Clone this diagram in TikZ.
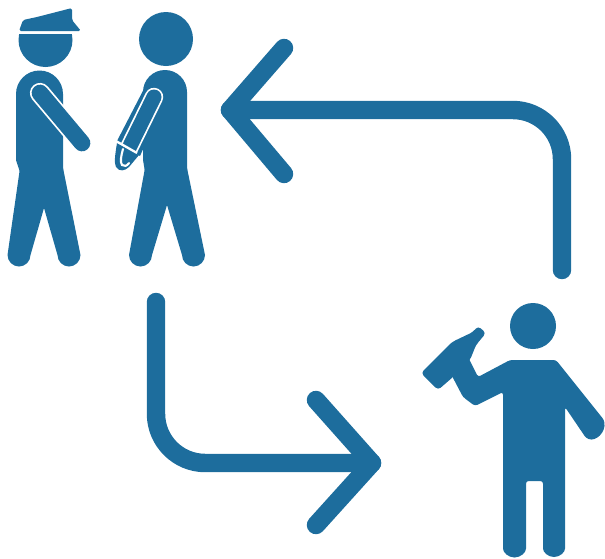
\documentclass[tikz,border=0pt]{standalone}
\definecolor{figblue}{RGB}{29,109,157}
\usetikzlibrary{calc}
\begin{document}
\begin{tikzpicture}[x=0.02cm,y=-0.02cm,
  arrowline/.style={draw=figblue,line width=10.5pt,line cap=round,line join=round},
  limb/.style={line cap=round,line join=round},
  gap/.style={draw=white,line cap=round}]
  \useasboundingbox (0,0) rectangle (605,558);
  % Officer
  \coordinate (officerhead) at (45.5,40);
  \begin{scope}
    \clip (0,34) rectangle (100,80);
    \fill[figblue] (officerhead) circle (27);
  \end{scope}
  \fill[figblue,rounded corners=1pt] (19,31) -- (23,20) -- (37,17) -- (72,8) -- (72,20) -- (81,31) -- cycle;
  \fill[figblue] (16,160) -- (16,94) arc[start angle=180,end angle=360,radius=23.5] -- (63,172) -- (20,172) -- cycle;
  \fill[figblue] (20,168) -- (7.5,255) arc[start angle=180,end angle=0,radius=11.5] -- (44,208)
    -- (57.5,255) arc[start angle=180,end angle=0,radius=11.5] -- (63,168) -- cycle;
  \draw[gap,line width=11.5pt] (40,93) -- (82,143);
  \draw[figblue,limb,line width=9.5pt] (40,93) -- (82,143);
  % Arrested man
  \fill[figblue] (166,39) circle (27);
  \fill[figblue] (143,160) -- (143,92) arc[start angle=180,end angle=360,radius=22] -- (187,172) -- (145,172) -- cycle;
  \fill[figblue] (145,168) -- (129,255) arc[start angle=180,end angle=0,radius=11.5] -- (167,205)
    -- (182,255) arc[start angle=180,end angle=0,radius=11.5] -- (187,168) -- cycle;
  % Arm behind the back
  \fill[figblue] (147,83) -- (117,141) -- (140,156) -- (165,100) -- cycle;
  \draw[gap,line width=10.5pt] (154,97) -- (129,148);
  \draw[figblue,limb,line cap=butt,line width=8.5pt] (154,97) -- (129,148);
  \fill[figblue] (154,97) circle (7.5);
  % Cuffed hand
  \fill[figblue] (117,143) .. controls (115,155) and (114,163) .. (116,167)
    .. controls (119,172) and (125,171) .. (129,167) -- (139,155) -- cycle;
  \draw[white,line width=1.3pt] (116,141) -- (137,153);
  \draw[white,line width=1.2pt,line cap=round] (123,149) .. controls (121,156) and (120,162) .. (122,165)
    .. controls (124,167) and (127,166) .. (129,163);
  % Drinking man
  \fill[figblue] (533,326) circle (23);
  \fill[figblue,rounded corners=1.5pt] (510,360) -- (556,360) -- (604,420) .. controls (606,432) and (596,442) .. (586,438)
    -- (565,407) -- (565,546) arc[start angle=0,end angle=180,radius=11] -- (543,481) -- (526,481)
    -- (526,546) arc[start angle=0,end angle=180,radius=11.5] -- (503,392) -- (475,406)
    -- (463,397) -- (452,376) -- (468,357) -- (478,377) -- cycle;
  % Bottle
  \fill[figblue,rounded corners=2pt] (421,373) -- (438,390) -- (453,377) -- (470,360) -- (476,345)
    -- (486,333) -- (478,326) -- (473,332) -- (452,342) -- cycle;
  % Arrow back to the officer
  \coordinate (topstart) at (562,270);
  \coordinate (topbend) at (562,110);
  \coordinate (toptip) at (230,110);
  \draw[arrowline,rounded corners=28pt] (topstart) -- (topbend) -- (toptip);
  \draw[arrowline] (284,48) -- (toptip) -- (284,174);
  % Arrow to the drinking man
  \coordinate (botstart) at (156,302);
  \coordinate (botbend) at (156,463);
  \coordinate (bottip) at (372,463);
  \draw[arrowline,rounded corners=28pt] (botstart) -- (botbend) -- (bottip);
  \draw[arrowline] (316,400) -- (bottip) -- (316,525);
\end{tikzpicture}
\end{document}
